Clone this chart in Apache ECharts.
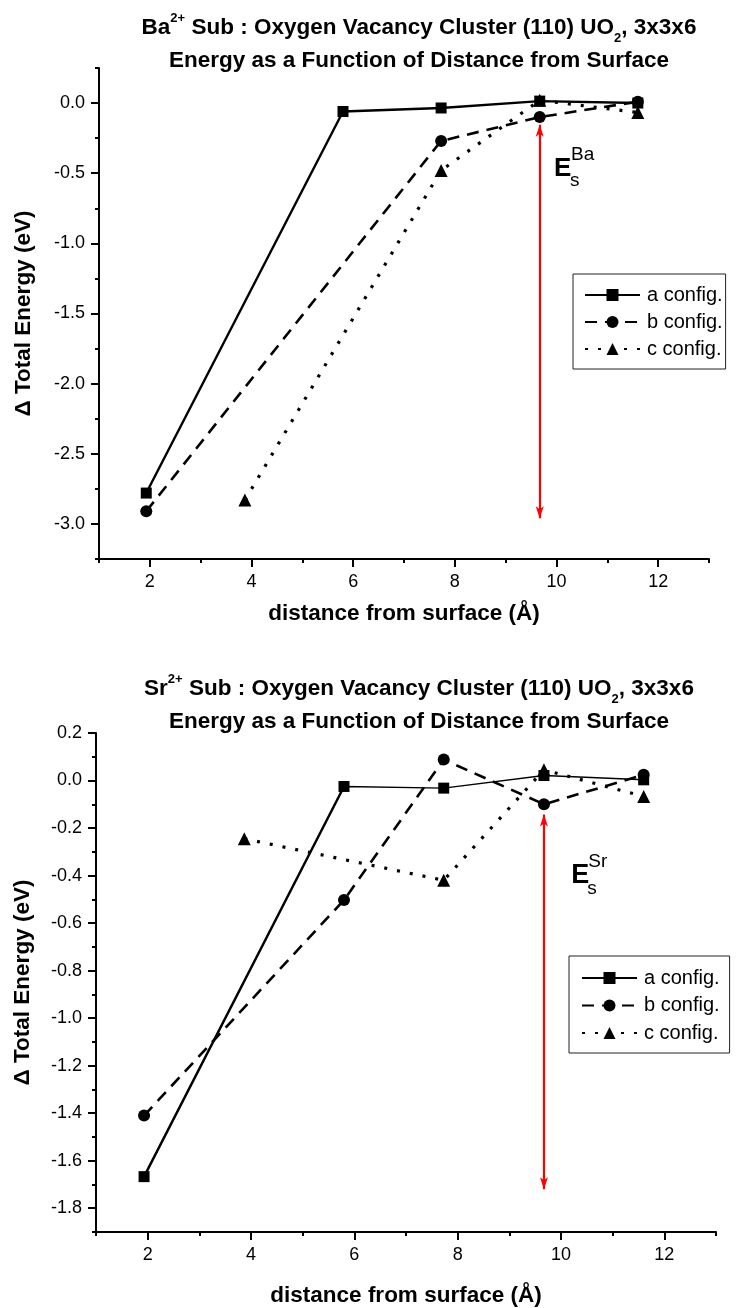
<!DOCTYPE html>
<html>
<head>
<meta charset="utf-8">
<script src="https://cdn.jsdelivr.net/npm/echarts@6/dist/echarts.min.js"></script>
<style>
  html, body { margin: 0; padding: 0; background: #fff; }
  #chart { width: 741px; height: 1308px; }
</style>
</head>
<body>
<div id="chart"></div>
<script>
// ---- Ba2+ substitution: energy vs. distance from the (110) surface ----
const baA_x = [1.93, 5.80, 7.73, 9.67, 11.60];
const baA_y = [-2.78, -0.06, -0.035, 0.014, 0.0];
const baB_x = [1.93, 7.73, 9.67, 11.60];
const baB_y = [-2.91, -0.27, -0.10, 0.01];
const baC_x = [3.87, 7.73, 9.67, 11.60];
const baC_y = [-2.83, -0.48, 0.02, -0.067];

// ---- Sr2+ substitution ----
const srA_x = [1.93, 5.80, 7.73, 9.67, 11.60];
const srA_y = [-1.667, -0.025, -0.032, 0.021, 0.003];
const srB_x = [1.93, 5.80, 7.73, 9.67, 11.60];
const srB_y = [-1.41, -0.503, 0.088, -0.10, 0.024];
const srC_x = [3.87, 7.73, 9.67, 11.60];
const srC_y = [-0.245, -0.42, 0.045, -0.067];

// Segregation-energy arrows: [x, upper end, lower end]
const baArrow = [9.67, -0.155, -2.96];
const srArrow = [9.67, -0.143, -1.72];
// Anchor of the E_s annotation: [x, y]
const baLabelPos = [9.95, -0.47];
const srLabelPos = [10.2, -0.40];

// Axis ticks
const xMajorTicks = [2, 4, 6, 8, 10, 12];
const xMinorTicks = [1, 3, 5, 7, 9, 11, 13];
const baYMajorTicks = [0.0, -0.5, -1.0, -1.5, -2.0, -2.5, -3.0];
const baYMinorTicks = [0.25, -0.25, -0.75, -1.25, -1.75, -2.25, -2.75, -3.25];
const srYMajorTicks = [0.2, 0.0, -0.2, -0.4, -0.6, -0.8, -1.0, -1.2, -1.4, -1.6, -1.8];
const srYMinorTicks = [0.1, -0.1, -0.3, -0.5, -0.7, -0.9, -1.1, -1.3, -1.5, -1.7, -1.9];

const configNames = ['a config.', 'b config.', 'c config.'];

const FONT = '"Liberation Sans", Arial, Helvetica, sans-serif';
const BLACK = '#000';
const RED = '#ff0000';

const zip = (xs, ys) => xs.map((x, i) => [x, ys[i]]);

function xAxes(gridIndex, nameGap) {
  const common = {
    gridIndex, type: 'value', min: 1, max: 13, position: 'bottom',
    splitLine: { show: false }
  };
  return [
    Object.assign({}, common, {
      axisLine: { show: true, onZero: false, lineStyle: { color: BLACK, width: 2 } },
      axisTick: { show: true, length: 8, customValues: xMajorTicks, lineStyle: { color: BLACK, width: 2 } },
      axisLabel: { show: true, customValues: xMajorTicks, color: BLACK, fontSize: 18, fontFamily: FONT, margin: 14,
                   formatter: v => String(v) },
      name: 'distance from surface (Å)', nameLocation: 'middle', nameGap,
      nameTextStyle: { color: BLACK, fontSize: 22.5, fontWeight: 'bold', fontFamily: FONT }
    }),
    Object.assign({}, common, {
      axisLine: { show: false, onZero: false },
      axisTick: { show: true, length: 4, customValues: xMinorTicks, lineStyle: { color: BLACK, width: 2 } },
      axisLabel: { show: false }
    })
  ];
}

function yAxes(gridIndex, min, max, majors, minors, nameGap) {
  const common = {
    gridIndex, type: 'value', min, max, position: 'left',
    splitLine: { show: false }
  };
  return [
    Object.assign({}, common, {
      axisLine: { show: true, onZero: false, lineStyle: { color: BLACK, width: 2 } },
      axisTick: { show: true, length: 8, customValues: majors, lineStyle: { color: BLACK, width: 2 } },
      axisLabel: { show: true, customValues: majors, color: BLACK, fontSize: 18, fontFamily: FONT, margin: 14,
                   formatter: v => Number(v).toFixed(1) },
      name: 'Δ Total Energy (eV)', nameLocation: 'middle', nameGap, nameRotate: 90,
      nameTextStyle: { color: BLACK, fontSize: 22.5, fontWeight: 'bold', fontFamily: FONT }
    }),
    Object.assign({}, common, {
      axisLine: { show: false, onZero: false },
      axisTick: { show: true, length: 4, customValues: minors, lineStyle: { color: BLACK, width: 2 } },
      axisLabel: { show: false }
    })
  ];
}

const styleA = (w) => ({ symbol: 'rect', symbolSize: 11, lineStyle: { color: BLACK, width: w, type: 'solid' } });
const styleB = { symbol: 'circle', symbolSize: 12, lineStyle: { color: BLACK, width: 2.6, type: [12, 8] } };
const styleC = { symbol: 'triangle', symbolSize: 13, lineStyle: { color: BLACK, width: 3.2, type: [3, 10], cap: 'butt' } };

function lineSeries(name, xs, ys, style, axisIdx) {
  return Object.assign({
    type: 'line', name, data: zip(xs, ys),
    xAxisIndex: axisIdx, yAxisIndex: axisIdx,
    itemStyle: { color: BLACK },
    showAllSymbol: true, animation: false, z: 3
  }, style);
}

// E_s annotation (E with subscript s and element superscript) plus the red double arrow
function arrowAndLabel(axisIdx, pos, arrow, element, supOffset, subOffset, fontE) {
  const txt = { show: true, position: 'inside', align: 'left', verticalAlign: 'middle',
                color: BLACK, fontFamily: FONT, textBorderWidth: 0 };
  return {
    type: 'scatter', xAxisIndex: axisIdx, yAxisIndex: axisIdx, silent: true, animation: false,
    symbolSize: 0, itemStyle: { color: BLACK, opacity: 1 }, z: 6,
    label: txt,
    data: [
      { value: pos, label: Object.assign({}, txt, { formatter: 'E', fontSize: fontE, fontWeight: 'bold' }) },
      { value: pos, label: Object.assign({}, txt, { formatter: 's', fontSize: 19, offset: subOffset }) },
      { value: pos, label: Object.assign({}, txt, { formatter: element, fontSize: 19, offset: supOffset }) }
    ],
    markLine: {
      silent: true, animation: false,
      symbol: ['arrow', 'arrow'], symbolSize: [6, 12],
      lineStyle: { color: RED, width: 2.2, type: 'solid', opacity: 1 },
      label: { show: false },
      data: [[{ coord: [arrow[0], arrow[1]] }, { coord: [arrow[0], arrow[2]] }]]
    }
  };
}

function legend(names, left, top, padding, gap) {
  return {
    data: names, orient: 'vertical', left, top, padding,
    itemWidth: 55, itemHeight: 15, itemGap: gap,
    borderColor: '#222', borderWidth: 1, backgroundColor: '#fff',
    selectedMode: false,
    textStyle: { color: BLACK, fontSize: 20, lineHeight: 20, fontFamily: FONT, padding: [0, 0, 0, 2] },
    formatter: n => n.replace(/ \((Ba|Sr)\)$/, '')
  };
}

const titleRich = {
  b: { fontSize: 22.5, fontWeight: 'bold', fontFamily: FONT, color: BLACK, lineHeight: 33 },
  sup: { fontSize: 13, fontWeight: 'bold', fontFamily: FONT, color: BLACK, lineHeight: 20, verticalAlign: 'top' },
  sub: { fontSize: 13, fontWeight: 'bold', fontFamily: FONT, color: BLACK, lineHeight: 8, verticalAlign: 'bottom' }
};
function titleText(ion) {
  return '{b|' + ion + '}{sup|2+}{b| Sub : Oxygen Vacancy Cluster (110) UO}{sub|2}{b|, 3x3x6}\n' +
         '{b|Energy as a Function of Distance from Surface}';
}

const baNames = configNames.map(n => n + ' (Ba)');
const srNames = configNames.map(n => n + ' (Sr)');

const option = {
  backgroundColor: '#fff',
  animation: false,
  title: [
    { text: titleText('Ba'), left: 419, top: 11.5, textAlign: 'center', padding: 0, textStyle: { rich: titleRich } },
    { text: titleText('Sr'), left: 419, top: 672.5, textAlign: 'center', padding: 0, textStyle: { rich: titleRich } }
  ],
  grid: [
    { left: 99, top: 68, width: 610, height: 491 },
    { left: 96, top: 733, width: 620, height: 499 }
  ],
  xAxis: [].concat(xAxes(0, 43), xAxes(1, 52)),
  yAxis: [].concat(
    yAxes(0, -3.25, 0.25, baYMajorTicks, baYMinorTicks, 64),
    yAxes(1, -1.9, 0.2, srYMajorTicks, srYMinorTicks, 62)
  ),
  legend: [
    legend(baNames, 573, 274, [11, 3, 10, 11], 7),
    legend(srNames, 569, 956, [12, 10, 10, 12], 7.5)
  ],
  series: [
    // Ba panel (axes 0)
    lineSeries(baNames[0], baA_x, baA_y, styleA(2.4), 0),
    lineSeries(baNames[1], baB_x, baB_y, styleB, 0),
    lineSeries(baNames[2], baC_x, baC_y, styleC, 0),
    arrowAndLabel(0, baLabelPos, baArrow, 'Ba', [17, -14], [16, 12], 26),
    // Sr panel (axes 2): the first a-segment is drawn heavier
    Object.assign(lineSeries('a config. lead (Sr)', srA_x.slice(0, 2), srA_y.slice(0, 2),
                  { symbol: 'none', lineStyle: { color: BLACK, width: 2.4 } }, 2), { z: 2 }),
    lineSeries(srNames[0], srA_x, srA_y, styleA(1.4), 2),
    lineSeries(srNames[1], srB_x, srB_y, styleB, 2),
    lineSeries(srNames[2], srC_x, srC_y, styleC, 2),
    arrowAndLabel(2, srLabelPos, srArrow, 'Sr', [17, -14], [16, 13], 27)
  ]
};

const chart = echarts.init(document.getElementById('chart'), null, { renderer: 'canvas' });
chart.setOption(option);
</script>
</body>
</html>
